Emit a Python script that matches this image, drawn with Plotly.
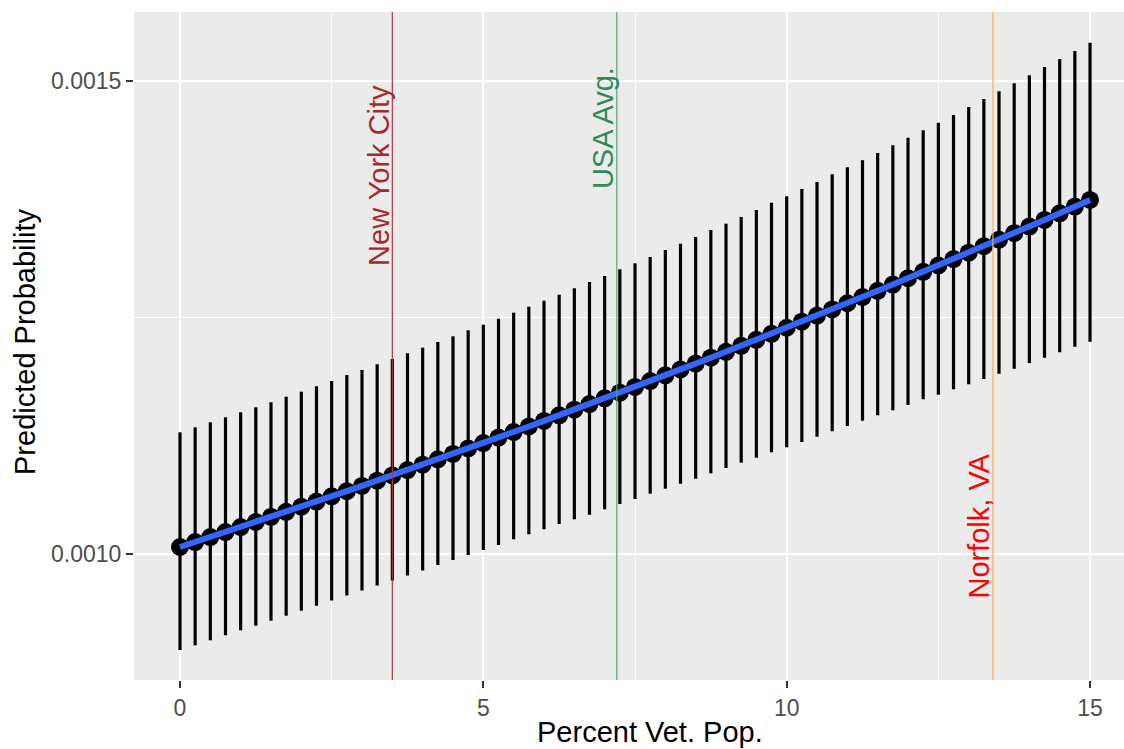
import plotly.graph_objects as go
import numpy as np

# ---- data ----
pct_vet = [0, 0.25, 0.5, 0.75, 1, 1.25, 1.5, 1.75, 2, 2.25,
           2.5, 2.75, 3, 3.25, 3.5, 3.75, 4, 4.25, 4.5, 4.75,
           5, 5.25, 5.5, 5.75, 6, 6.25, 6.5, 6.75, 7, 7.25,
           7.5, 7.75, 8, 8.25, 8.5, 8.75, 9, 9.25, 9.5, 9.75,
           10, 10.25, 10.5, 10.75, 11, 11.25, 11.5, 11.75, 12, 12.25,
           12.5, 12.75, 13, 13.25, 13.5, 13.75, 14, 14.25, 14.5, 14.75, 15]

pred_prob = [1.00740e-3, 1.01263e-3, 1.01788e-3, 1.02316e-3, 1.02847e-3, 1.03381e-3, 1.03917e-3, 1.04456e-3, 1.04998e-3, 1.05543e-3,
             1.06091e-3, 1.06642e-3, 1.07195e-3, 1.07751e-3, 1.08310e-3, 1.08872e-3, 1.09437e-3, 1.10005e-3, 1.10576e-3, 1.11150e-3,
             1.11727e-3, 1.12307e-3, 1.12890e-3, 1.13476e-3, 1.14065e-3, 1.14657e-3, 1.15252e-3, 1.15850e-3, 1.16451e-3, 1.17055e-3,
             1.17662e-3, 1.18273e-3, 1.18887e-3, 1.19504e-3, 1.20124e-3, 1.20747e-3, 1.21374e-3, 1.22004e-3, 1.22637e-3, 1.23273e-3,
             1.23913e-3, 1.24556e-3, 1.25202e-3, 1.25852e-3, 1.26505e-3, 1.27161e-3, 1.27821e-3, 1.28484e-3, 1.29151e-3, 1.29821e-3,
             1.30495e-3, 1.31172e-3, 1.31853e-3, 1.32537e-3, 1.33225e-3, 1.33916e-3, 1.34611e-3, 1.35310e-3, 1.36012e-3, 1.36718e-3, 1.37427e-3]

ci_upper = [1.12865e-3, 1.13393e-3, 1.13922e-3, 1.14450e-3, 1.14979e-3, 1.15507e-3, 1.16036e-3, 1.16628e-3, 1.17156e-3, 1.17727e-3,
            1.18288e-3, 1.18922e-3, 1.19450e-3, 1.20053e-3, 1.20613e-3, 1.21216e-3, 1.21808e-3, 1.22410e-3, 1.23013e-3, 1.23647e-3,
            1.24239e-3, 1.24873e-3, 1.25507e-3, 1.26142e-3, 1.26776e-3, 1.27410e-3, 1.28087e-3, 1.28753e-3, 1.29387e-3, 1.30095e-3,
            1.30729e-3, 1.31395e-3, 1.32135e-3, 1.32801e-3, 1.33510e-3, 1.34249e-3, 1.34915e-3, 1.35624e-3, 1.36364e-3, 1.37135e-3,
            1.37812e-3, 1.38584e-3, 1.39323e-3, 1.40137e-3, 1.40877e-3, 1.41617e-3, 1.42389e-3, 1.43203e-3, 1.44006e-3, 1.44789e-3,
            1.45592e-3, 1.46406e-3, 1.47252e-3, 1.48097e-3, 1.48911e-3, 1.49757e-3, 1.50603e-3, 1.51480e-3, 1.52326e-3, 1.53171e-3, 1.54049e-3]

ci_lower = [0.89852e-3, 0.90349e-3, 0.90877e-3, 0.91406e-3, 0.91934e-3, 0.92421e-3, 0.92949e-3, 0.93478e-3, 0.94006e-3, 0.94535e-3,
            0.95085e-3, 0.95613e-3, 0.96142e-3, 0.96670e-3, 0.97199e-3, 0.97727e-3, 0.98256e-3, 0.98837e-3, 0.99366e-3, 0.99894e-3,
            1.00423e-3, 1.00951e-3, 1.01554e-3, 1.02082e-3, 1.02611e-3, 1.03171e-3, 1.03668e-3, 1.04154e-3, 1.04725e-3, 1.05285e-3,
            1.05814e-3, 1.06374e-3, 1.06903e-3, 1.07431e-3, 1.07960e-3, 1.08531e-3, 1.09091e-3, 1.09651e-3, 1.10180e-3, 1.10751e-3,
            1.11279e-3, 1.11839e-3, 1.12400e-3, 1.12970e-3, 1.13531e-3, 1.14091e-3, 1.14662e-3, 1.15190e-3, 1.15751e-3, 1.16353e-3,
            1.16839e-3, 1.17410e-3, 1.17939e-3, 1.18499e-3, 1.19059e-3, 1.19588e-3, 1.20190e-3, 1.20751e-3, 1.21321e-3, 1.21913e-3, 1.22442e-3]

ref_x = [3.5, 7.2, 13.4]
ref_labels = ["New York City", "USA Avg.", "Norfolk, VA"]
ref_label_y = [0.00140, 0.00145, 0.00103]

x_ticks = [0, 5, 10, 15]
y_ticks = [0.0010, 0.0015]
x_title = "Percent Vet. Pop."
y_title = "Predicted Probability"

# ---- styles ----
line_colors = ["#B03A3A", "#55A474", "#F2B24A"]
text_colors = ["#A52A2A", "#2E8B57", "#FF0000"]
FONT = "Liberation Sans, Arial, Helvetica, sans-serif"

pred_arr = np.array(pred_prob)
err_plus = np.array(ci_upper) - pred_arr
err_minus = pred_arr - np.array(ci_lower)

fig = go.Figure()

fig.add_trace(go.Scatter(
    x=pct_vet, y=pred_prob, mode="markers",
    marker=dict(color="black", size=18, line=dict(width=0)),
    error_y=dict(type="data", array=err_plus, arrayminus=err_minus,
                 symmetric=False, color="black", thickness=3.2, width=0),
    showlegend=False, hoverinfo="skip"))

fig.add_trace(go.Scatter(
    x=pct_vet, y=pred_prob, mode="lines",
    line=dict(color="#3366FF", width=6),
    showlegend=False, hoverinfo="skip"))

for xv, lab, ly, lc, tc in zip(ref_x, ref_labels, ref_label_y, line_colors, text_colors):
    fig.add_shape(type="line", x0=xv, x1=xv, y0=0, y1=1, xref="x", yref="paper",
                  line=dict(color=lc, width=1.2), layer="above")
    fig.add_annotation(x=xv, y=ly, text=lab, showarrow=False, textangle=-90,
                       xanchor="center", yanchor="middle", xshift=-14,
                       font=dict(family=FONT, size=29, color=tc))

# axis titles as paper annotations for exact placement
fig.add_annotation(x=(650 - 134) / 990, y=-(732 - 680) / 668, xref="paper", yref="paper",
                   text=x_title, showarrow=False, xanchor="center", yanchor="middle",
                   font=dict(family=FONT, size=29, color="black"))
fig.add_annotation(x=(25 - 134) / 990, y=(680 - 342) / 668, xref="paper", yref="paper",
                   text=y_title, showarrow=False, textangle=-90, xanchor="center", yanchor="middle",
                   font=dict(family=FONT, size=29, color="black"))

fig.update_layout(
    width=1124, height=749,
    margin=dict(l=134, r=0, t=12, b=69, autoexpand=False),
    paper_bgcolor="white", plot_bgcolor="#EBEBEB",
    font=dict(family=FONT),
    xaxis=dict(range=[-0.758, 15.56], tickvals=x_ticks, ticktext=[str(t) for t in x_ticks],
               showgrid=True, gridcolor="white", gridwidth=2.2, automargin=False,
               minor=dict(tickvals=[2.5, 7.5, 12.5], showgrid=True, gridcolor="white", gridwidth=1.1, ticks=""),
               ticks="outside", ticklen=7, tickwidth=2, tickcolor="#333333",
               tickfont=dict(size=23, color="#4D4D4D", family=FONT),
               zeroline=False, showline=False),
    yaxis=dict(range=[0.000866808, 0.0015729], tickvals=y_ticks, ticktext=["0.0010", "0.0015"],
               showgrid=True, gridcolor="white", gridwidth=2.2, automargin=False,
               minor=dict(tickvals=[0.00125], showgrid=True, gridcolor="white", gridwidth=1.1, ticks=""),
               ticks="outside", ticklen=7, tickwidth=2, tickcolor="#333333",
               tickfont=dict(size=23, color="#4D4D4D", family=FONT),
               zeroline=False, showline=False),
)

fig.write_html("out.html", config={"displayModeBar": False},
               post_script="document.body.style.margin='0px';document.body.style.overflow='hidden';")
